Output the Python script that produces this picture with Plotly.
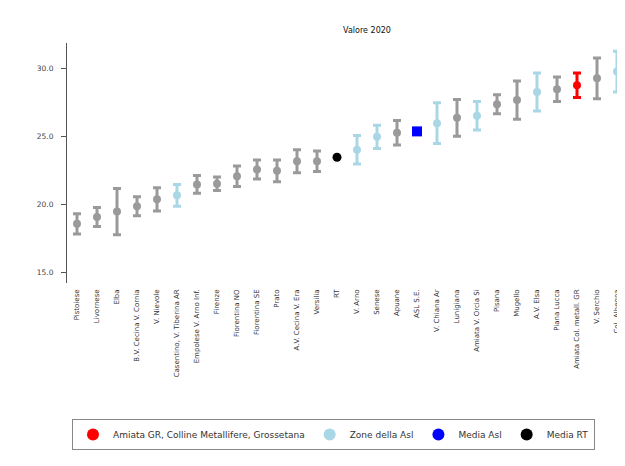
import plotly.graph_objects as go

labels = ["Pistoiese", "Livornese", "Elba", "B.V. Cecina V. Cornia", "V. Nievole",
          "Casentino, V. Tiberina AR", "Empolese V. Arno Inf.", "Firenze", "Fiorentina NO",
          "Fiorentina SE", "Prato", "A.V. Cecina V. Era", "Versilia", "RT", "V. Arno",
          "Senese", "Apuane", "ASL S.E.", "V. Chiana Ar", "Lunigiana", "Amiata V. Orcia Si",
          "Pisana", "Mugello", "A.V. Elsa", "Piana Lucca", "Amiata Col. metall. GR",
          "V. Serchio", "Col. Albegna"]
values = [18.6, 19.1, 19.5, 19.9, 20.4, 20.7, 21.5, 21.55, 22.1, 22.6, 22.5, 23.2, 23.2,
          23.5, 24.05, 25.0, 25.3, 25.4, 26.0, 26.4, 26.55, 27.4, 27.7, 28.3, 28.5, 28.8,
          29.3, 29.8]
errors = [0.75, 0.7, 1.7, 0.7, 0.85, 0.8, 0.65, 0.5, 0.75, 0.7, 0.8, 0.85, 0.75,
          0.0, 1.05, 0.85, 0.9, 0.0, 1.5, 1.35, 1.05, 0.7, 1.4, 1.4, 0.9, 0.9, 1.5, 1.5]
groups = ["other", "other", "other", "other", "other", "zone", "other", "other", "other",
          "other", "other", "other", "other", "rt", "zone", "zone", "other", "asl", "zone",
          "other", "zone", "other", "other", "zone", "other", "target", "other", "zone"]

styles = {
    "other": dict(color="#9a9a9a", symbol="circle", size=8, name=None),
    "zone": dict(color="#a9d7e6", symbol="circle", size=8, name="Zone della Asl"),
    "target": dict(color="#ff0000", symbol="circle", size=8,
                   name="Amiata GR, Colline Metallifere, Grossetana"),
    "asl": dict(color="#0000ff", symbol="square", size=10, name="Media Asl"),
    "rt": dict(color="#000000", symbol="circle", size=9, name="Media RT"),
}

fig = go.Figure()
for g in ["other", "zone", "target", "asl", "rt"]:
    st = styles[g]
    idx = [i for i, gg in enumerate(groups) if gg == g]
    fig.add_trace(go.Scatter(
        x=[labels[i] for i in idx], y=[values[i] for i in idx], mode="markers",
        marker=dict(color=st["color"], symbol=st["symbol"], size=st["size"]),
        error_y=dict(type="data", array=[errors[i] for i in idx], color=st["color"],
                     thickness=3, width=4, visible=True),
        showlegend=False, hoverinfo="x+y"))

for g in ["target", "zone", "asl", "rt"]:
    st = styles[g]
    fig.add_trace(go.Scatter(x=[None], y=[None], mode="markers", name=st["name"],
                             marker=dict(color=st["color"], symbol="circle", size=10)))

# the page body adds an 8 px offset; layout numbers below account for it
fig.update_layout(
    width=625, height=466,
    margin=dict(l=59, r=8, t=35, b=191, autoexpand=False),
    paper_bgcolor="white", plot_bgcolor="white",
    font=dict(family="DejaVu Sans, Verdana, sans-serif", size=7, color="#333333"),
    title=dict(text="Valore 2020", x=359/625, xref="container", xanchor="center",
               y=1-22/466, yref="container", yanchor="middle",
               font=dict(size=8, color="#111111")),
    xaxis=dict(type="category", categoryorder="array", categoryarray=labels,
               range=[-0.5, 27.4], tickangle=-90, showline=False, showgrid=False,
               zeroline=False, ticks="", automargin=False, ticklabelstandoff=4,
               tickfont=dict(size=7, color="#333333")),
    yaxis=dict(range=[14.25, 31.9], tickvals=[15, 20, 25, 30],
               ticktext=["15.0", "20.0", "25.0", "30.0"], showline=True,
               linecolor="#555555", linewidth=1, ticks="outside", ticklen=5,
               tickcolor="#555555", showgrid=False, zeroline=False, automargin=False,
               ticklabelstandoff=6, tickfont=dict(size=7.5, color="#444444")),
    legend=dict(orientation="h", xref="container", x=64/625, xanchor="left",
                yref="container", y=1-411/466, yanchor="top",
                bordercolor="#888888", borderwidth=1, font=dict(size=9, color="#333333"),
                itemsizing="constant", tracegroupgap=0, itemwidth=30),
)

fig.write_html("out.html")
